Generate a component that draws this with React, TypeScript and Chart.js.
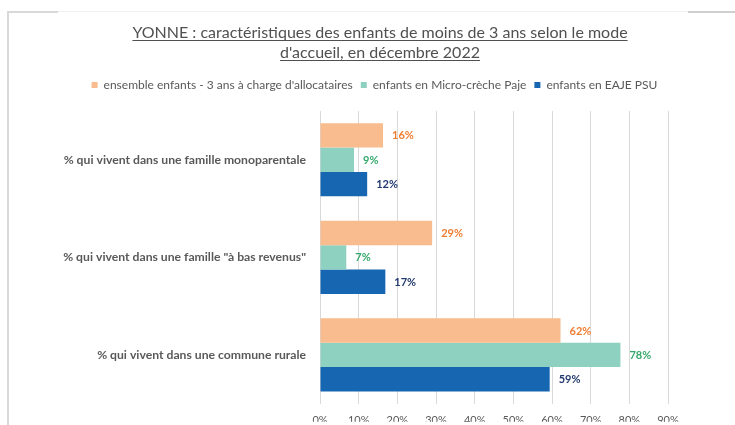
import React, { useEffect, useRef } from "react";
import { Chart, registerables } from "chart.js";

Chart.register(...registerables);

// ---- data ----
const titleLines = [
  "YONNE : caractéristiques des enfants de moins de 3 ans selon le mode",
  "d'accueil, en décembre 2022",
];
const categories = [
  "% qui vivent dans une famille monoparentale",
  "% qui vivent dans une famille \"à bas revenus\"",
  "% qui vivent dans une commune rurale",
];
const seriesNames = [
  "ensemble enfants - 3 ans à charge d'allocataires",
  "enfants en Micro-crèche Paje",
  "enfants en EAJE PSU",
];
const ensembleValues = [16.3, 29.0, 62.2];
const microValues = [8.8, 6.8, 77.7];
const eajeValues = [12.2, 16.9, 59.4];
const xTickValues = [0, 10, 20, 30, 40, 50, 60, 70, 80, 90];

// ---- styles ----
const FONT = "Lato, 'Open Sans', sans-serif";
const GRAY = "#595959";
const barColors = ["#F8BC8E", "#8FD1C1", "#1766B2"];
const labelColors = ["#EE7D31", "#34A96B", "#22396E"];

const framePlugin = {
  id: "frame",
  beforeDraw(chart: any) {
    const ctx = chart.ctx;
    ctx.save();
    ctx.fillStyle = "#ffffff";
    ctx.fillRect(0, 0, chart.width, chart.height);
    ctx.strokeStyle = "#F0F0F0";
    ctx.lineWidth = 1;
    ctx.beginPath();
    ctx.moveTo(58, 11.5);
    ctx.lineTo(688, 11.5);
    ctx.stroke();
    ctx.strokeStyle = "#D9D9D9";
    ctx.lineWidth = 2;
    ctx.beginPath();
    ctx.moveTo(8, 425);
    ctx.lineTo(8, 12);
    ctx.lineTo(58, 12);
    ctx.stroke();
    ctx.strokeStyle = "#D0D0D0";
    ctx.beginPath();
    ctx.moveTo(688, 12);
    ctx.lineTo(735, 12);
    ctx.stroke();
    ctx.restore();
  },
};

const titlePlugin = {
  id: "ulTitle",
  afterDraw(chart: any) {
    const ctx = chart.ctx;
    ctx.save();
    ctx.font = `16px ${FONT}`;
    ctx.fillStyle = "#505050";
    ctx.strokeStyle = "#505050";
    ctx.lineWidth = 1;
    ctx.textAlign = "center";
    ctx.textBaseline = "alphabetic";
    const cx = 380;
    const baselines = [38, 58];
    titleLines.forEach((line, i) => {
      const y = baselines[i];
      ctx.fillText(line, cx, y);
      const w = ctx.measureText(line).width;
      ctx.beginPath();
      ctx.moveTo(cx - w / 2, y + 2.5);
      ctx.lineTo(cx + w / 2, y + 2.5);
      ctx.stroke();
    });
    ctx.restore();
  },
};

const valueLabelPlugin = {
  id: "valueLabels",
  afterDatasetsDraw(chart: any) {
    const ctx = chart.ctx;
    ctx.save();
    ctx.font = `bold 11px ${FONT}`;
    ctx.textAlign = "left";
    ctx.textBaseline = "middle";
    chart.data.datasets.forEach((ds: any, di: number) => {
      const meta = chart.getDatasetMeta(di);
      ctx.fillStyle = labelColors[di];
      meta.data.forEach((bar: any, i: number) => {
        const v = ds.data[i];
        ctx.fillText(`${Math.round(v)}%`, bar.x + 9, bar.y + 0.5);
      });
    });
    ctx.restore();
  },
};

export default function App() {
  const canvasRef = useRef<HTMLCanvasElement | null>(null);

  useEffect(() => {
    if (!canvasRef.current) return;
    const chart = new Chart(canvasRef.current, {
      type: "bar",
      data: {
        labels: categories,
        datasets: [
          { label: seriesNames[0], data: ensembleValues, backgroundColor: barColors[0] },
          { label: seriesNames[1], data: microValues, backgroundColor: barColors[1] },
          { label: seriesNames[2], data: eajeValues, backgroundColor: barColors[2] },
        ],
      },
      options: {
        indexAxis: "y",
        animation: false,
        responsive: false,
        devicePixelRatio: 1,
        layout: { padding: { left: 40, right: 26, top: 71, bottom: 0 } },
        datasets: {
          bar: { categoryPercentage: 0.75, barPercentage: 1.0 },
        },
        plugins: {
          title: { display: false },
          tooltip: { enabled: false },
          legend: {
            display: true,
            position: "top",
            align: "center",
            labels: {
              boxWidth: 6,
              boxHeight: 6,
              padding: 8,
              color: GRAY,
              font: { family: FONT, size: 12 },
            },
          },
        },
        scales: {
          x: {
            type: "linear",
            position: "bottom",
            min: 0,
            max: 90,
            afterBuildTicks: (scale: any) => {
              scale.ticks = xTickValues.map((v) => ({ value: v }));
            },
            afterFit: (scale: any) => {
              scale.height = 18;
            },
            grid: { color: "#D9D9D9", drawTicks: false, lineWidth: 1 },
            border: { display: false },
            ticks: {
              padding: 10.5,
              color: GRAY,
              font: { family: FONT, size: 11 },
              callback: (v: any) => `${v}%`,
            },
          },
          x2: {
            type: "linear",
            position: "top",
            display: true,
            grid: { display: false, drawTicks: false },
            border: { display: false },
            ticks: { display: false },
            afterFit: (scale: any) => {
              scale.height = 10;
            },
          },
          y: {
            type: "category",
            position: "left",
            grid: { display: false, drawTicks: false },
            border: { display: false },
            ticks: {
              padding: 14,
              color: GRAY,
              font: { family: FONT, size: 12.2, weight: "bold" },
            },
            afterFit: (scale: any) => {
              scale.width = 320 - 40;
            },
          },
          y2: {
            type: "linear",
            position: "right",
            display: true,
            grid: { display: false, drawTicks: false },
            border: { display: false },
            ticks: { display: false },
            afterFit: (scale: any) => {
              scale.width = 41;
            },
          },
        },
      } as any,
      plugins: [framePlugin, titlePlugin, valueLabelPlugin],
    });
    return () => chart.destroy();
  }, []);

  return (
    <div style={{ position: "fixed", left: 0, top: 0, width: 735, height: 425, overflow: "hidden", background: "#fff" }}>
      <canvas ref={canvasRef} width={735} height={425} style={{ display: "block" }} />
    </div>
  );
}
